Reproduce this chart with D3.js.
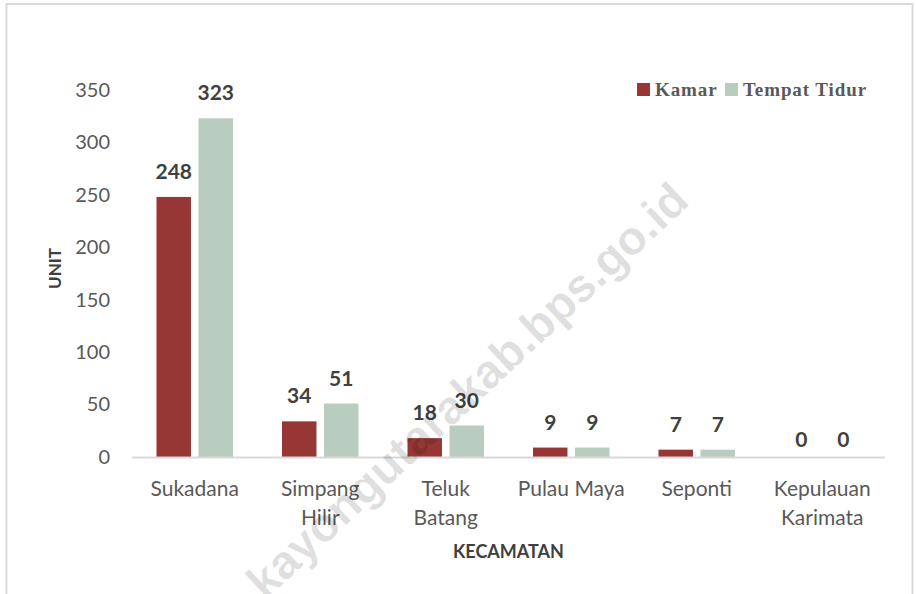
<!DOCTYPE html>
<html>
<head>
<meta charset="utf-8">
<script src="https://cdn.jsdelivr.net/npm/d3@7"></script>
<style>
  body { margin: 0; background: #fff; }
  svg { display: block; }
</style>
</head>
<body>
<div id="chart"></div>
<script>
// data
const categories = ["Sukadana", "Simpang Hilir", "Teluk Batang", "Pulau Maya", "Seponti", "Kepulauan Karimata"]
const tickLines = [["Sukadana"], ["Simpang", "Hilir"], ["Teluk", "Batang"], ["Pulau Maya"], ["Seponti"], ["Kepulauan", "Karimata"]]
const series = ["Kamar", "Tempat Tidur"]
const kamar = [248, 34, 18, 9, 7, 0]
const tempatTidur = [323, 51, 30, 9, 7, 0]
const yTicks = [0, 50, 100, 150, 200, 250, 300, 350]

const colors = {"Kamar": "#963735", "Tempat Tidur": "#b8ccbf"}

const W = 916, H = 594
const margin = {top: 90, right: 31, bottom: 137, left: 132}
const width = W - margin.left - margin.right
const height = H - margin.top - margin.bottom

const rows = categories.map((c, i) => ({cat: c, lines: tickLines[i], values: [kamar[i], tempatTidur[i]]}))

const root = d3.select("#chart").append("svg")
    .attr("width", W)
    .attr("height", H)

// outer frame
root.append("rect")
    .attr("x", 6.5).attr("y", 4)
    .attr("width", 906).attr("height", H + 10)
    .attr("fill", "none")
    .attr("stroke", "#d9d9d9")
    .attr("stroke-width", 2)

const svg = root.append("g")
    .attr("transform", "translate(" + margin.left + "," + margin.top + ")")

const x0 = d3.scaleBand()
    .domain(categories)
    .range([0, width])

const x1 = d3.scaleBand()
    .domain(series)
    .range([24.5, 101])
    .paddingInner(0.18)

const y = d3.scaleLinear()
    .domain([0, 350])
    .range([height, 0])

// y tick labels (no axis line)
const yAxis = d3.axisLeft(y).tickValues(yTicks).tickSize(0).tickPadding(22)
svg.append("g")
    .call(yAxis)
    .call(g => g.select(".domain").remove())
    .selectAll("text")
    .style("font-family", "Lato")
    .style("font-size", "20px")
    .attr("fill", "#595959")

// bars
const groups = svg.selectAll(".grp")
    .data(rows)
    .enter().append("g")
    .attr("class", "grp")
    .attr("transform", d => "translate(" + x0(d.cat) + ",0)")

groups.selectAll("rect")
    .data(d => d.values.map((v, i) => ({key: series[i], v: v})))
    .enter().append("rect")
    .attr("x", d => x1(d.key))
    .attr("width", x1.bandwidth())
    .attr("y", d => y(d.v))
    .attr("height", d => y(0) - y(d.v))
    .attr("fill", d => colors[d.key])

// value labels; zero bars get their label lower, like the source
groups.selectAll(".val")
    .data(d => d.values.map((v, i) => ({key: series[i], v: v})))
    .enter().append("text")
    .attr("class", "val")
    .attr("x", d => x1(d.key) + x1.bandwidth() / 2)
    .attr("y", d => y(d.v) - (d.v === 0 ? 10 : 18))
    .attr("text-anchor", "middle")
    .style("font-family", "Lato")
    .style("font-weight", "bold")
    .style("font-size", "21px")
    .attr("fill", "#404040")
    .text(d => d.v)

// baseline
svg.append("line")
    .attr("x1", 0).attr("x2", width)
    .attr("y1", y(0) + 0.5).attr("y2", y(0) + 0.5)
    .attr("stroke", "#d9d9d9")
    .attr("stroke-width", 2)

// category labels
const xAxis = svg.append("g")
    .attr("transform", "translate(0," + height + ")")
xAxis.selectAll("text")
    .data(rows)
    .enter().append("text")
    .attr("x", d => x0(d.cat) + x0.bandwidth() / 2)
    .attr("y", 39)
    .attr("text-anchor", "middle")
    .style("font-family", "Lato")
    .style("font-size", "21px")
    .attr("fill", "#595959")
    .selectAll("tspan")
    .data(d => d.lines)
    .enter().append("tspan")
    .attr("x", function () { return d3.select(this.parentNode).attr("x") })
    .attr("dy", (d, i) => i === 0 ? 0 : 29)
    .text(d => d)

// axis titles
svg.append("text")
    .attr("x", width / 2)
    .attr("y", height + 101)
    .attr("text-anchor", "middle")
    .style("font-family", "Lato")
    .style("font-weight", "bold")
    .style("font-size", "18px")
    .attr("fill", "#404040")
    .text("KECAMATAN")

svg.append("text")
    .attr("transform", "translate(-71," + (height / 2 - 5) + ") rotate(-90)")
    .attr("text-anchor", "middle")
    .style("font-family", "Lato")
    .style("font-weight", "bold")
    .style("font-size", "17px")
    .attr("fill", "#404040")
    .text("UNIT")

// legend
const legend = root.append("g")
const legX = [637, 725]
series.forEach((s, i) => {
    legend.append("rect")
        .attr("x", legX[i]).attr("y", 83)
        .attr("width", 13).attr("height", 13)
        .attr("fill", colors[s])
    legend.append("text")
        .attr("x", legX[i] + 18).attr("y", 96)
        .style("font-family", "Liberation Serif")
        .style("font-weight", "bold")
        .style("font-size", "19px")
        .style("letter-spacing", "0.9px")
        .attr("fill", "#595959")
        .text(s)
})

// watermark
root.append("text")
    .attr("transform", "translate(467,390) rotate(-43)")
    .attr("text-anchor", "middle")
    .attr("dominant-baseline", "central")
    .style("font-family", "Liberation Sans")
    .style("font-weight", "bold")
    .style("font-size", "47px")
    .attr("fill", "#000")
    .attr("fill-opacity", 0.12)
    .text("kayongutarakab.bps.go.id")
</script>
</body>
</html>
